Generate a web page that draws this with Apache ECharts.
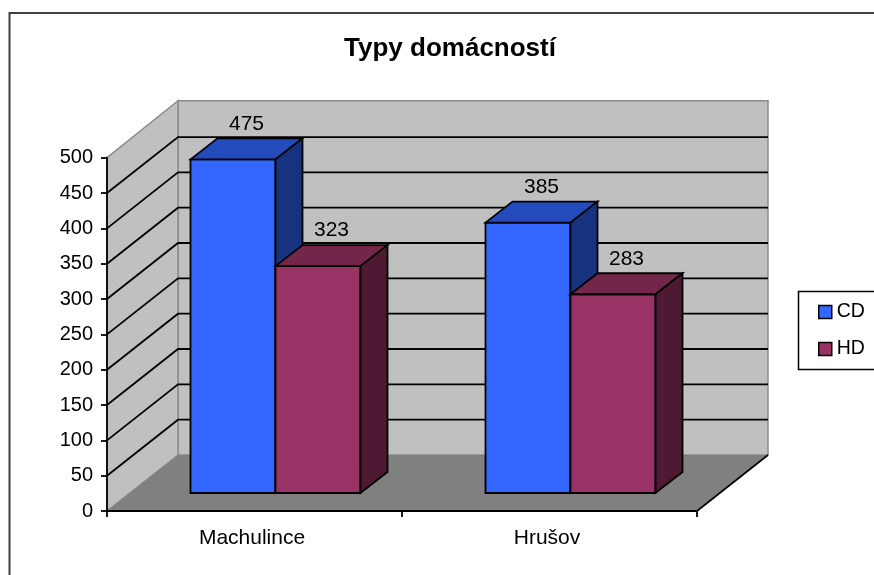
<!DOCTYPE html>
<html><head><meta charset="utf-8">
<style>html,body{margin:0;padding:0;background:#fff}#c{width:874px;height:575px}</style>
<script src="https://cdn.jsdelivr.net/npm/echarts@6/dist/echarts.min.js"></script>
</head><body><div id="c"></div>
<script>
const titleText = 'Typy domácností';
const categories = ['Machulince', 'Hrušov'];
const seriesNames = ['CD', 'HD'];
const cdValues = [475, 385];
const hdValues = [323, 283];
const yMax = 500, yStep = 50;
const yTicks = [0, 50, 100, 150, 200, 250, 300, 350, 400, 450, 500];

const FONT = '"Liberation Sans", Arial, sans-serif';
const roomDX = 71, roomDY = -56;
const barDX = 21, barDY = -18, barW = 85, deepX = 27, deepY = -21, barScale = 0.994;
const palette = {
  CD: { front: '#3366FF', top: '#234BBB', side: '#17337F' },
  HD: { front: '#993366', top: '#732649', side: '#4D1933' }
};
const chart = echarts.init(document.getElementById('c'), null, { renderer: 'canvas' });

function poly(points, fill, stroke, lw) {
  return { type: 'polygon', shape: { points }, style: { fill, stroke: stroke || null, lineWidth: lw || 0 } };
}
function line(points, stroke, lw) {
  return { type: 'polyline', shape: { points }, style: { fill: null, stroke, lineWidth: lw } };
}
function renderRoom(params, api) {
  const [x0, y0] = api.coord([0, 0]);
  const band = api.size([1, 0])[0];
  const xL = x0 - band / 2, xR = xL + band * categories.length;
  const yTop = api.coord([0, yMax])[1];
  const ch = [];
  ch.push(poly([[xL + roomDX, yTop + roomDY - 1], [xR + roomDX, yTop + roomDY - 1], [xR + roomDX, y0 + roomDY], [xL + roomDX, y0 + roomDY]], '#C0C0C0', '#8C8C8C', 1.5));
  ch.push(poly([[xL, yTop], [xL + roomDX, yTop + roomDY - 1], [xL + roomDX, y0 + roomDY], [xL, y0]], '#C0C0C0', '#8C8C8C', 1.5));
  ch.push(poly([[xL, y0], [xL + roomDX, y0 + roomDY], [xR + roomDX, y0 + roomDY], [xR, y0]], '#808080'));
  yTicks.filter(v => v > 0 && v < yMax).forEach(v => {
    const y = api.coord([0, v])[1];
    ch.push(line([[xL, y], [xL + roomDX, y + roomDY], [xR + roomDX, y + roomDY]], '#000', 1.8));
  });
  ch.push(line([[xR, y0], [xR + roomDX, y0 + roomDY]], '#000', 1.6));
  return { type: 'group', children: ch };
}
function renderBar(name, idx) {
  return function (params, api) {
    const c = palette[name];
    const [cx, y00] = api.coord([api.value(0), 0]);
    const v = api.value(1);
    const yv = api.coord([api.value(0), v])[1];
    const xl = cx + barDX + (idx - 1) * barW, xr = xl + barW;
    const yb = y00 + barDY, yt = yb + (yv - y00) * barScale;
    return { type: 'group', children: [
      poly([[xl, yb], [xl, yt], [xr, yt], [xr, yb]], c.front, '#000', 1.8),
      poly([[xl, yt], [xl + deepX, yt + deepY], [xr + deepX, yt + deepY], [xr, yt]], c.top, '#000', 1.8),
      poly([[xr, yt], [xr + deepX, yt + deepY], [xr + deepX, yb + deepY], [xr, yb]], c.side, '#000', 1.8),
      { type: 'text', z2: 50, style: { x: (xl + xr) / 2 + 13.5, y: yt - 35.5, text: String(v), fill: '#000',
        font: '21px ' + FONT, align: 'center', verticalAlign: 'middle' } }
    ] };
  };
}
function barSeries(name, idx, values) {
  return {
    name, type: 'custom', coordinateSystem: 'cartesian2d', silent: true, animation: false,
    encode: { x: 0, y: 1 }, z: 3 + idx,
    itemStyle: { color: palette[name].front },
    data: values.map((v, i) => [categories[i], v]),
    renderItem: renderBar(name, idx)
  };
}
chart.setOption({
  animation: false,
  backgroundColor: '#fff',
  title: { text: titleText, left: 450, top: 35.5, textAlign: 'center', padding: 0,
    textStyle: { fontFamily: FONT, fontWeight: 'bold', fontSize: 26, color: '#000' } },
  graphic: [
    { type: 'rect', z: -1, shape: { x: 9.5, y: 13, width: 900, height: 600 }, style: { fill: 'none', stroke: '#404040', lineWidth: 2 } },
    { type: 'rect', z: -1, shape: { x: 798.5, y: 291.5, width: 100, height: 78 }, style: { fill: '#fff', stroke: '#000', lineWidth: 1.5 } }
  ],
  legend: { data: seriesNames, left: 818, top: 302, orient: 'vertical', itemWidth: 13, itemHeight: 13, itemGap: 17, padding: 0,
    icon: 'rect', itemStyle: { borderColor: '#000', borderWidth: 1.5 },
    textStyle: { fontFamily: FONT, fontSize: 19.5, color: '#000' } },
  grid: { left: 107, right: 177, top: 157.7, bottom: 64, containLabel: false },
  xAxis: { type: 'category', data: categories, z: 10,
    axisLine: { lineStyle: { color: '#000', width: 1.8 } },
    axisTick: { show: true, length: 6, lineStyle: { color: '#000', width: 1.8 } },
    axisLabel: { color: '#000', fontFamily: FONT, fontSize: 21, margin: 17, padding: [0, 5, 0, 0] } },
  yAxis: { type: 'value', min: 0, max: yMax, interval: yStep, z: 10,
    axisLine: { show: true, lineStyle: { color: '#000', width: 1.8 } },
    axisTick: { show: true, length: 6, lineStyle: { color: '#000', width: 1.8 } },
    splitLine: { show: false },
    axisLabel: { color: '#000', fontFamily: FONT, fontSize: 20, margin: 14 } },
  series: [
    { name: 'room', type: 'custom', coordinateSystem: 'cartesian2d', silent: true, animation: false, z: 2,
      encode: { x: 0, y: 1 }, data: [[categories[0], 0]], renderItem: renderRoom },
    barSeries('CD', 0, cdValues),
    barSeries('HD', 1, hdValues)
  ]
});
</script></body></html>
